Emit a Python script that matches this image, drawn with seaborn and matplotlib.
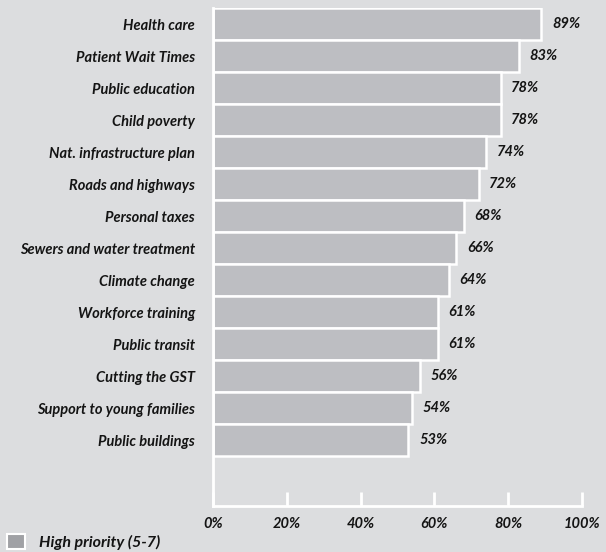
import pandas as pd
import seaborn as sns
import matplotlib.pyplot as plt
from matplotlib.patches import Patch

# 数据
categories = ["Health care", "Patient Wait Times", "Public education", "Child poverty",
              "Nat. infrastructure plan", "Roads and highways", "Personal taxes",
              "Sewers and water treatment", "Climate change", "Workforce training",
              "Public transit", "Cutting the GST", "Support to young families", "Public buildings"]
values = [89, 83, 78, 78, 74, 72, 68, 66, 64, 61, 61, 56, 54, 53]
x_ticks = [0, 20, 40, 60, 80, 100]
legend_label = "High priority (5-7)"

bg = "#dcdddf"
bar_color = "#bdbec2"
text_color = "#141414"
FAM = "Lato"
WT = "bold"
font = dict(family=FAM, weight=WT, style="italic")

df = pd.DataFrame({"issue": categories, "pct": values})

fig = plt.figure(figsize=(6.06, 5.52), dpi=100, facecolor=bg)
ax = fig.add_axes([0.3515, 0.0833, 0.6085, 0.9022])
ax.set_facecolor(bg)

sns.barplot(data=df, x="pct", y="issue", color=bar_color, width=1.0,
            edgecolor="white", linewidth=1.8, saturation=1, ax=ax)

for i, v in enumerate(values):
    ax.text(v + 2.9, i, f"{v}%", va="center", ha="left", fontsize=10.5,
            color=text_color, **font)

ax.set_xlim(0, 100)
ax.set_ylim(15.06, -0.5)
ax.set_xticks(x_ticks)
ax.set_xticklabels([f"{t}%" for t in x_ticks])
ax.set_xlabel("")
ax.set_ylabel("")

for lab in ax.get_yticklabels() + ax.get_xticklabels():
    lab.set_fontfamily(FAM)
    lab.set_fontweight(WT)
    lab.set_fontstyle("italic")
    lab.set_fontsize(10.5)
    lab.set_color(text_color)

ax.tick_params(axis="y", length=0, pad=13)
ax.tick_params(axis="x", direction="in", length=10, width=2, color="white", pad=8)

for s in ["top", "right"]:
    ax.spines[s].set_visible(False)
for s in ["left", "bottom"]:
    ax.spines[s].set_color("white")
    ax.spines[s].set_linewidth(2)

fig.legend(handles=[Patch(facecolor="#a0a1a5", edgecolor="white", linewidth=1.5)],
           labels=[legend_label], loc="lower left", bbox_to_anchor=(-0.012, -0.022),
           frameon=False, handlelength=1.1, handleheight=1.1, handletextpad=0.9,
           prop=dict(family=FAM, weight=WT, style="italic", size=11.5),
           labelcolor=text_color)

fig.savefig("out.png", dpi=100, facecolor=bg)
